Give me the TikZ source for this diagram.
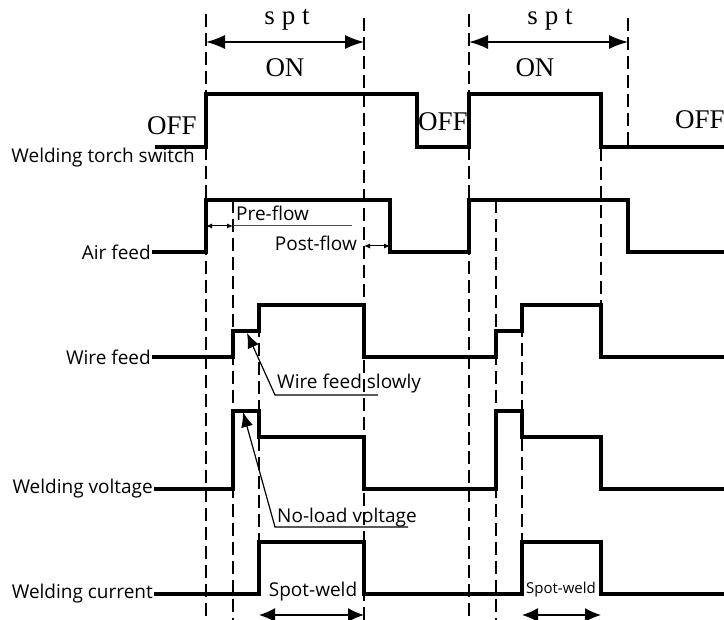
\documentclass[tikz,border=0pt]{standalone}
\usepackage{fontspec}
\setmainfont{Open Sans}
\newfontfamily\statefont{Liberation Serif}
\usetikzlibrary{arrows.meta}
\tikzset{
  wave/.style={line width=3.2pt, line join=miter},
  guide/.style={dash pattern=on 13pt off 6pt, line width=1.3pt},
  sig/.style={anchor=east, inner sep=1pt, font=\fontsize{19}{21}\selectfont},
  state/.style={inner sep=0pt, font=\statefont\fontsize{27}{29}\selectfont},
  note/.style={inner sep=1pt, font=\fontsize{19}{21}\selectfont},
  span/.style={{Latex[length=19pt,width=14pt]}-{Latex[length=19pt,width=14pt]}, line width=1.4pt},
  shortspan/.style={{Latex[length=6pt,width=5pt]}-{Latex[length=6pt,width=5pt]}, line width=1pt},
  pointer/.style={-{Latex[length=15pt,width=12pt]}, line width=1.2pt},
}

\begin{document}
\begin{tikzpicture}[x=1pt, y=-1pt]
  \useasboundingbox (0,0) rectangle (724,620);

  % guide lines
  \foreach \x/\a/\b in {206/14/620, 233/200/620, 259/305/542, 364/18/620,
                        469/14/620, 496/200/620, 522/305/542, 601/148/305, 628/18/148}
    \draw[guide] (\x,\a) -- (\x,\b);

  % signal names
  \node[sig] (torch) at (196,158) {Welding torch switch};
  \node[sig] (air) at (152,252) {Air feed};
  \node[sig] (wire) at (152,357) {Wire feed};
  \node[sig] (volt) at (154,489) {Welding voltage};
  \node[sig] (curr) at (154,594) {Welding current};

  % waveforms
  \draw[wave] (155,147) -- (206,147) -- (206,94) -- (417,94) -- (417,147) -- (469,147)
    -- (469,94) -- (601,94) -- (601,147) -- (724,147);
  \draw[wave] (air.east) -- (206,252) -- (206,200) -- (390,200) -- (390,252) -- (469,252)
    -- (469,200) -- (628,200) -- (628,252) -- (724,252);
  \draw[wave] (wire.east) -- (233,357) -- (233,331) -- (259,331) -- (259,305) -- (364,305)
    -- (364,357) -- (496,357) -- (496,331) -- (522,331) -- (522,305) -- (601,305)
    -- (601,357) -- (724,357);
  \draw[wave] (volt.east) -- (233,489) -- (233,411) -- (259,411) -- (259,437) -- (364,437)
    -- (364,489) -- (496,489) -- (496,411) -- (522,411) -- (522,437) -- (601,437)
    -- (601,489) -- (724,489);
  \draw[wave] (curr.east) -- (259,594) -- (259,542) -- (364,542) -- (364,594) -- (522,594)
    -- (522,542) -- (601,542) -- (601,594) -- (724,594);

  % switch states
  \node[state] (off1) at (172,126) {OFF};
  \node[state] (off2) at (443,122) {OFF};
  \node[state] (off3) at (700,120) {OFF};
  \node[state] (on1) at (285,68) {ON};
  \node[state] (on2) at (535,68) {ON};
  \node[state, font=\statefont\fontsize{27}{29}\selectfont\addfontfeature{LetterSpace=25}] (spt1) at (287,20) {spt};
  \node[state, font=\statefont\fontsize{27}{29}\selectfont\addfontfeature{LetterSpace=25}] (spt2) at (550,20) {spt};
  \coordinate (s1a) at (206,42);
  \coordinate (s1b) at (364,42);
  \coordinate (s2a) at (469,42);
  \coordinate (s2b) at (628,42);
  \draw[span] (s1a) -- (s1b);
  \draw[span] (s2a) -- (s2b);

  % gas timing
  \node[note, anchor=west] (pre) at (235,213) {Pre-flow};
  \node[note, anchor=east] (post) at (358,243) {Post-flow};
  \draw[shortspan] (206,226) -- (233,226);
  \draw[line width=0.6pt, black!70] (233,225) -- (352,225);
  \draw[shortspan] (364,246) -- (390,246);

  % wire feed slowly
  \node[note, anchor=south west] (slow) at (276,394) {Wire feed slowly};
  \coordinate (slowend) at (378,395);
  \coordinate (slowtip) at (247,333);
  \draw[pointer] (slowend) -- (275,395) -- (slowtip);

  % no-load voltage
  \node[note, anchor=south west] (noload) at (276,528) {No-load voltage};
  \coordinate (noloadend) at (408,527);
  \coordinate (noloadtip) at (243,412);
  \draw[pointer] (noloadend) -- (275,527) -- (noloadtip);

  % spot welds
  \node[note] (spot1) at (313,592) {Spot-weld};
  \node[note, font=\fontsize{15}{17}\selectfont] (spot2) at (561,590) {Spot-weld};
  \coordinate (w1a) at (259,615);
  \coordinate (w1b) at (364,615);
  \coordinate (w2a) at (522,615);
  \coordinate (w2b) at (601,615);
  \draw[span, {Latex[length=16pt,width=14pt]}-{Latex[length=16pt,width=14pt]}] (w1a) -- (w1b);
  \draw[span, {Latex[length=16pt,width=14pt]}-{Latex[length=16pt,width=14pt]}] (w2a) -- (w2b);
\end{tikzpicture}
\end{document}
